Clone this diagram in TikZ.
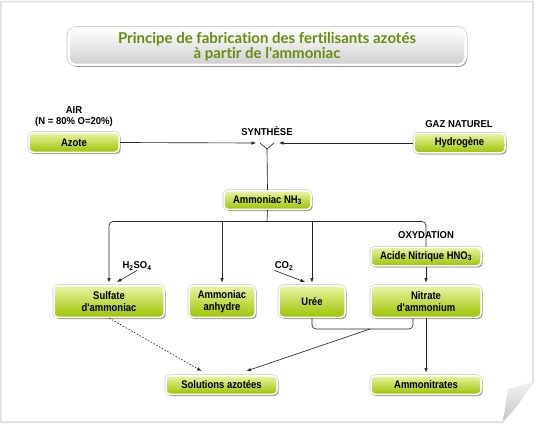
\documentclass[tikz,border=0pt]{standalone}
\usepackage{fontspec}
\setmainfont{Liberation Sans}
\newfontfamily\boxfont{Liberation Sans}[FakeStretch=0.86]
\newfontfamily\lblfont{Liberation Sans}[FakeStretch=0.95]
\newfontfamily\titlefont{Lato}[Ligatures=NoCommon]
\usetikzlibrary{arrows.meta,shadows,calc}
\definecolor{boxtop}{RGB}{235,244,165}
\definecolor{boxbot}{RGB}{156,196,0}
\definecolor{titlegreen}{RGB}{104,140,16}
\tikzset{
  gbox/.style={rounded corners=4pt, draw=white, line width=1.5pt,
    top color=boxtop, bottom color=boxbot, inner sep=1pt,
    font=\boxfont\bfseries\fontsize{11}{12}\selectfont, align=center,
    preaction={draw=gray!45, line width=2.6pt},
    drop shadow={shadow xshift=1.6pt, shadow yshift=-1.8pt, opacity=0.3, fill=black}},
  lbl/.style={font=\lblfont\bfseries\fontsize{10}{11}\selectfont, align=center, inner sep=0pt},
  conn/.style={line width=0.65pt, draw=black!85},
  arr/.style={conn, -{Latex[length=4.5pt,width=3.6pt]}},
}
\begin{document}
\begin{tikzpicture}[x=1pt,y=-1pt]
\useasboundingbox (0,0) rectangle (544,436);
% card
\fill[gray!25] (0,1) -- (534,1) -- (534,382) -- (503,423) -- (0,423) -- cycle;
\fill[white] (1.5,2.5) -- (532,2.5) -- (532,382) .. controls (524,398) and (514,411) .. (503,421) -- (1.5,421) -- cycle;
\shade[top color=gray!10, bottom color=gray!45] (532,382) .. controls (520,386) and (512,388) .. (508,389) .. controls (506,400) and (505,410) .. (503,421) .. controls (514,411) and (524,398) .. (532,382) -- cycle;
% title
\node[rounded corners=8pt, draw=white, line width=2.5pt, top color=white, bottom color=gray!38,
  minimum width=397pt, minimum height=37pt, inner sep=2pt,
  preaction={draw=gray!50, line width=3.6pt},
  drop shadow={shadow xshift=1.5pt, shadow yshift=-2pt, opacity=0.3, fill=black},
  font=\titlefont\bfseries\fontsize{15}{13.5}\selectfont, text=titlegreen, align=center]
  (title) at (267,46.5) {Principe de fabrication des fertilisants azotés\\à partir de l'ammoniac};
% boxes
\node[gbox, minimum width=90pt, minimum height=19.5pt] (azote) at (74,142.5) {Azote};
\node[gbox, minimum width=91pt, minimum height=19.5pt] (hyd) at (459.5,143) {Hydrogène};
\node[gbox, minimum width=87pt, minimum height=18.5pt] (nh3) at (267.5,200) {Ammoniac NH\textsubscript{3}};
\node[gbox, minimum width=110pt, minimum height=31.5pt] (sulf) at (109,301.5) {Sulfate\\d'ammoniac};
\node[gbox, minimum width=66pt, minimum height=31.5pt] (anh) at (222,301.5) {Ammoniac\\anhydre};
\node[gbox, minimum width=66pt, minimum height=31.5pt] (uree) at (312,301.5) {Urée};
\node[gbox, minimum width=110pt, minimum height=31.5pt] (nitr) at (426,301.5) {Nitrate\\d'ammonium};
\node[gbox, minimum width=110pt, minimum height=18.5pt] (acide) at (426,256.5) {Acide Nitrique HNO\textsubscript{3}};
\node[gbox, minimum width=111pt, minimum height=18.5pt] (sol) at (221.5,385) {Solutions azotées};
\node[gbox, minimum width=110pt, minimum height=18.5pt] (ammo) at (426,385) {Ammonitrates};
% labels
\node[lbl] (air) at (74,116.5) {AIR\\(N = 80\% O=20\%)};
\node[lbl] (gaz) at (459,124.5) {GAZ NATUREL};
\node[lbl] (syn) at (267,131.5) {SYNTHÈSE};
\node[lbl] (oxy) at (426,235.5) {OXYDATION};
\node[lbl] (h2so4) at (137,266) {H\textsubscript{2}SO\textsubscript{4}};
\node[lbl] (co2) at (284,266) {CO\textsubscript{2}};
% synthesis junction
\coordinate (yl) at (260,143);
\coordinate (yr) at (274,143);
\coordinate (yj) at (267,149);
\coordinate (split) at (267,221.5);
\draw[arr] (azote.east) -- (256,143);
\draw[arr] (hyd.west) -- (279,143);
\draw[conn] (yl) -- (yj) -- (yr);
\draw[conn] (yj) -- (nh3.north);
\draw[conn] (nh3.south) -- (split);
\draw[arr, rounded corners=4pt, shorten >=2.5pt] (split) -| (sulf.north);
\draw[arr, shorten >=2.5pt] (split) -| (anh.north);
\draw[arr, shorten >=2.5pt] (split) -| (uree.north);
\draw[conn, rounded corners=4pt] (split) -| (acide.north);
\draw[arr] (h2so4.south) -- ([xshift=8pt,yshift=3pt]sulf.north);
\draw[arr] (co2.south west) -- ([xshift=-7pt,yshift=3pt]uree.north);
\draw[arr, shorten >=2.5pt] (acide.south) -- (nitr.north);
\draw[conn, rounded corners=4pt] (uree.south) -- (312,329) -- (413,329) -- (413,318);
\coordinate (bm) at (370,329);
\draw[arr] (bm) -- ([xshift=25pt,yshift=4pt]sol.north);
\draw[arr, dash pattern=on 1.6pt off 1.6pt] (sulf.south) -- ([xshift=-20pt,yshift=4pt]sol.north);
\draw[arr, shorten >=2.5pt] (nitr.south) -- (ammo.north);
\end{tikzpicture}
\end{document}
